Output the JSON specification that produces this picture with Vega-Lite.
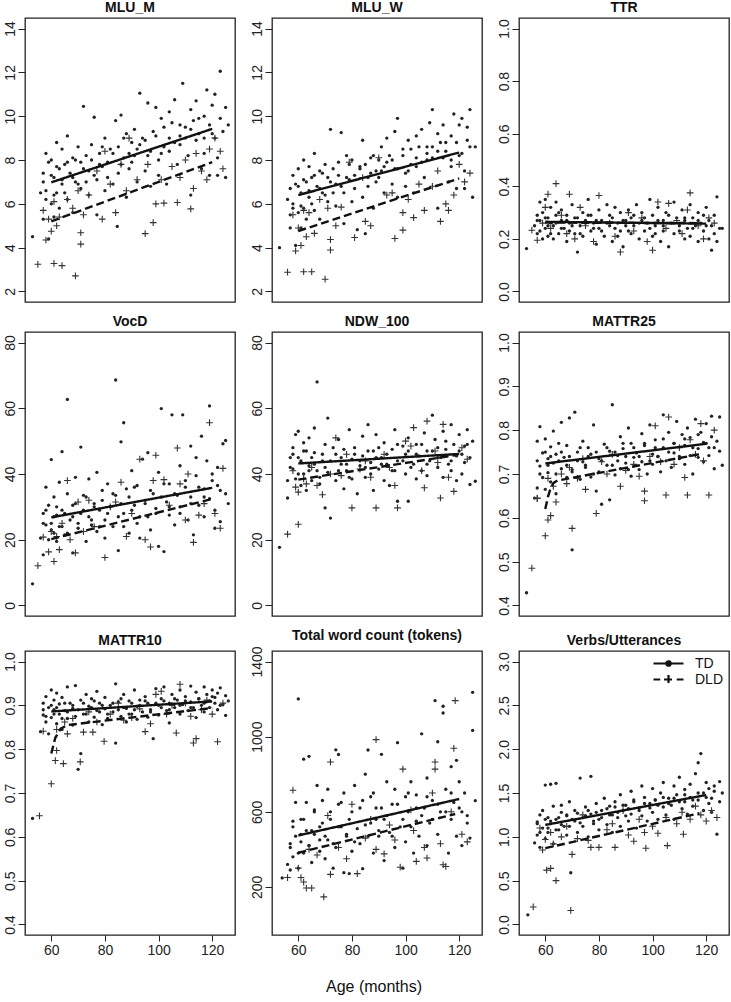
{
  "$schema": "https://vega.github.io/schema/vega-lite/v6.json",
  "padding": {"left": 2, "top": 0, "right": 0, "bottom": 0},
  "background": "white",
  "config": {
    "font": "Liberation Sans",
    "view": {"stroke": "#222", "strokeWidth": 1.3},
    "axis": {"domain": false, "grid": false, "ticks": true, "tickColor": "#222", "tickSize": 7, "tickWidth": 1,
      "labelFont": "Liberation Sans", "labelFontSize": 14, "labelColor": "#222", "labelPadding": 4, "labelOverlap": false, "labelFlush": false},
    "axisY": {"labelAngle": -90, "labelAlign": "center", "labelBaseline": "alphabetic"},
    "axisX": {"labelAngle": 0, "labelFontSize": 14, "labelPadding": 2, "tickSize": 6},
    "title": {"font": "Liberation Sans", "fontSize": 14, "fontWeight": "bold", "color": "#111", "offset": 3, "anchor": "middle"}
  },
  "title": {"text": "Age (months)", "orient": "bottom", "anchor": "middle", "fontSize": 16, "fontWeight": "normal", "offset": 21, "dx": 8},
  "columns": 3,
  "spacing": {"row": 11, "column": 13},
  "resolve": {"scale": {"x": "independent", "y": "independent", "strokeDash": "independent"}, "legend": {"strokeDash": "independent"}},
  "datasets": {
    "mlum_td": [{"a":53,"v":4.5},{"a":56,"v":6.5},{"a":57,"v":7.0},{"a":57,"v":5.3},{"a":58,"v":6.2},{"a":58,"v":8.3},{"a":59,"v":4.4},{"a":59,"v":7.9},{"a":60,"v":6.0},{"a":60,"v":8.0},{"a":61,"v":5.4},{"a":61,"v":7.2},{"a":62,"v":8.8},{"a":62,"v":6.5},{"a":63,"v":7.6},{"a":63,"v":5.8},{"a":64,"v":8.5},{"a":64,"v":6.9},{"a":65,"v":7.8},{"a":66,"v":9.1},{"a":66,"v":6.2},{"a":67,"v":7.4},{"a":68,"v":8.1},{"a":68,"v":5.6},{"a":69,"v":7.0},{"a":70,"v":8.6},{"a":71,"v":6.7},{"a":71,"v":7.9},{"a":72,"v":10.45},{"a":73,"v":8.2},{"a":74,"v":6.4},{"a":74,"v":7.5},{"a":75,"v":8.7},{"a":76,"v":9.95},{"a":77,"v":7.1},{"a":77,"v":5.5},{"a":78,"v":8.3},{"a":79,"v":7.7},{"a":80,"v":9.0},{"a":80,"v":6.6},{"a":81,"v":7.9},{"a":82,"v":8.5},{"a":83,"v":6.9},{"a":84,"v":9.8},{"a":84.6,"v":4.97},{"a":85,"v":7.4},{"a":86,"v":10.05},{"a":87,"v":8.1},{"a":88,"v":6.3},{"a":88,"v":9.2},{"a":89,"v":7.6},{"a":90,"v":8.8},{"a":91,"v":9.4},{"a":92,"v":7.0},{"a":92,"v":8.5},{"a":93,"v":11.05},{"a":94,"v":9.0},{"a":95,"v":7.5},{"a":96,"v":10.6},{"a":96,"v":8.2},{"a":97,"v":6.8},{"a":98,"v":9.3},{"a":99,"v":10.4},{"a":100,"v":8.0},{"a":100,"v":7.3},{"a":101,"v":9.9},{"a":102,"v":8.6},{"a":103,"v":6.9},{"a":104,"v":10.2},{"a":104,"v":8.4},{"a":105,"v":9.7},{"a":106,"v":10.75},{"a":107,"v":7.8},{"a":108,"v":9.1},{"a":108,"v":8.7},{"a":109,"v":11.5},{"a":110,"v":9.5},{"a":111,"v":8.2},{"a":112,"v":10.3},{"a":112,"v":6.4},{"a":113,"v":9.8},{"a":114,"v":8.9},{"a":114,"v":10.7},{"a":115,"v":9.2},{"a":116,"v":7.6},{"a":117,"v":10.0},{"a":117,"v":8.3},{"a":118,"v":11.2},{"a":119,"v":9.6},{"a":119,"v":7.3},{"a":120,"v":10.5},{"a":121,"v":9.0},{"a":121,"v":11.0},{"a":122,"v":8.1},{"a":122,"v":7.3},{"a":123,"v":12.05},{"a":124,"v":9.3},{"a":125,"v":10.4},{"a":125,"v":7.2},{"a":126,"v":9.6},
      {"a":57,"v":7.4},{"a":58,"v":6.6},{"a":60,"v":7.3},{"a":61,"v":6.4},{"a":62,"v":7.7},{"a":64,"v":7.1},{"a":65,"v":6.5},{"a":66,"v":7.9},{"a":68,"v":7.2},{"a":69,"v":8.0},{"a":70,"v":6.9},{"a":72,"v":7.6},{"a":73,"v":7.0},{"a":75,"v":8.0},{"a":76,"v":7.3},{"a":78,"v":7.8},{"a":79,"v":8.6},{"a":81,"v":7.2},{"a":83,"v":8.3},{"a":85,"v":8.6},{"a":86,"v":7.8},{"a":87,"v":9.0},{"a":89,"v":8.3},{"a":90,"v":7.9},{"a":91,"v":8.2},{"a":93,"v":8.7},{"a":95,"v":8.9},{"a":97,"v":8.4},{"a":99,"v":9.1},{"a":101,"v":8.3},{"a":102,"v":9.5},{"a":104,"v":9.0},{"a":106,"v":8.8},{"a":108,"v":9.6},{"a":110,"v":9.0},{"a":112,"v":9.4},{"a":115,"v":9.9},{"a":117,"v":9.0},{"a":120,"v":9.2},{"a":123,"v":9.9}],
    "mlum_dld": [{"a":55,"v":3.24},{"a":57,"v":5.7},{"a":58,"v":4.35},{"a":59,"v":5.3},{"a":60,"v":4.75},{"a":61,"v":3.28},{"a":61,"v":6.1},{"a":62,"v":5.0},{"a":63,"v":5.4},{"a":64,"v":3.18},{"a":66,"v":6.2},{"a":68,"v":5.8},{"a":69,"v":2.71},{"a":70,"v":6.6},{"a":71,"v":4.68},{"a":71,"v":4.16},{"a":72,"v":5.5},{"a":74,"v":6.4},{"a":77,"v":7.5},{"a":79,"v":5.3},{"a":80,"v":8.4},{"a":82,"v":6.9},{"a":84,"v":5.6},{"a":86,"v":7.8},{"a":88,"v":6.6},{"a":89,"v":9.0},{"a":92,"v":7.1},{"a":95,"v":4.64},{"a":96,"v":7.8},{"a":98,"v":5.14},{"a":99,"v":6.0},{"a":101,"v":7.1},{"a":102,"v":6.03},{"a":105,"v":7.7},{"a":107,"v":6.06},{"a":108,"v":7.2},{"a":110,"v":8.0},{"a":112,"v":5.77},{"a":113,"v":6.7},{"a":114,"v":8.3},{"a":116,"v":7.5},{"a":118,"v":7.1},{"a":119,"v":8.5},{"a":121,"v":9.0},{"a":123,"v":8.4},{"a":124,"v":7.6}],
    "mlum_fit": [{"g":"TD","a":60,"v":6.98},{"g":"TD","a":120,"v":9.42},{"g":"DLD","a":60,"v":5.2},{"g":"DLD","a":120,"v":7.9}],
    "mluw_td": [{"a":53,"v":4.0},{"a":56,"v":6.2},{"a":57,"v":5.5},{"a":57,"v":4.9},{"a":58,"v":5.8},{"a":58,"v":7.3},{"a":59,"v":4.1},{"a":59,"v":6.9},{"a":60,"v":5.6},{"a":60,"v":7.6},{"a":61,"v":4.9},{"a":61,"v":6.5},{"a":62,"v":8.0},{"a":62,"v":5.8},{"a":63,"v":7.0},{"a":63,"v":5.3},{"a":64,"v":7.7},{"a":64,"v":6.3},{"a":65,"v":7.2},{"a":66,"v":8.3},{"a":66,"v":5.7},{"a":67,"v":6.8},{"a":68,"v":7.5},{"a":68,"v":5.3},{"a":69,"v":6.5},{"a":70,"v":7.8},{"a":71,"v":6.1},{"a":71,"v":7.2},{"a":72,"v":9.4},{"a":73,"v":7.6},{"a":74,"v":5.9},{"a":74,"v":6.9},{"a":75,"v":7.9},{"a":76,"v":9.25},{"a":77,"v":6.5},{"a":77,"v":5.1},{"a":78,"v":8.2},{"a":79,"v":7.1},{"a":80,"v":8.0},{"a":80,"v":6.1},{"a":81,"v":7.3},{"a":82,"v":4.82},{"a":83,"v":7.7},{"a":84,"v":8.9},{"a":84,"v":6.3},{"a":85,"v":4.64},{"a":86,"v":6.8},{"a":87,"v":7.4},{"a":88,"v":5.8},{"a":88,"v":8.2},{"a":89,"v":7.0},{"a":90,"v":8.0},{"a":91,"v":8.6},{"a":92,"v":6.5},{"a":92,"v":7.7},{"a":93,"v":9.0},{"a":94,"v":8.2},{"a":95,"v":6.9},{"a":96,"v":9.3},{"a":96,"v":7.6},{"a":97,"v":6.3},{"a":97,"v":9.9},{"a":99,"v":8.5},{"a":100,"v":7.4},{"a":100,"v":6.8},{"a":101,"v":8.9},{"a":102,"v":7.8},{"a":103,"v":6.5},{"a":104,"v":9.1},{"a":104,"v":7.7},{"a":105,"v":8.6},{"a":106,"v":9.4},{"a":107,"v":7.2},{"a":108,"v":8.3},{"a":108,"v":8.0},{"a":109,"v":9.7},{"a":110,"v":8.6},{"a":110,"v":10.3},{"a":112,"v":9.2},{"a":112,"v":5.8},{"a":113,"v":8.8},{"a":114,"v":8.1},{"a":114,"v":9.6},{"a":115,"v":8.4},{"a":116,"v":7.0},{"a":117,"v":9.1},{"a":117,"v":7.7},{"a":118,"v":10.1},{"a":119,"v":8.8},{"a":119,"v":6.7},{"a":120,"v":9.6},{"a":121,"v":8.3},{"a":121,"v":9.9},{"a":122,"v":7.5},{"a":122,"v":6.7},{"a":123,"v":9.5},{"a":124,"v":8.6},{"a":124,"v":10.3},{"a":125,"v":6.3},{"a":126,"v":8.6},
      {"a":57,"v":6.7},{"a":58,"v":6.0},{"a":60,"v":6.8},{"a":61,"v":5.9},{"a":62,"v":7.1},{"a":64,"v":6.6},{"a":65,"v":6.0},{"a":66,"v":7.3},{"a":68,"v":6.7},{"a":69,"v":7.4},{"a":70,"v":6.4},{"a":72,"v":7.0},{"a":73,"v":6.5},{"a":75,"v":7.3},{"a":76,"v":6.8},{"a":78,"v":7.2},{"a":79,"v":7.8},{"a":81,"v":6.7},{"a":83,"v":7.6},{"a":85,"v":7.8},{"a":86,"v":7.2},{"a":87,"v":8.1},{"a":89,"v":7.5},{"a":90,"v":7.2},{"a":91,"v":7.5},{"a":93,"v":7.9},{"a":95,"v":8.0},{"a":97,"v":7.6},{"a":99,"v":8.2},{"a":101,"v":7.5},{"a":102,"v":8.5},{"a":104,"v":8.1},{"a":106,"v":7.9},{"a":108,"v":8.6},{"a":110,"v":8.1},{"a":112,"v":8.4},{"a":115,"v":8.8},{"a":117,"v":8.0},{"a":120,"v":8.2},{"a":123,"v":8.9}],
    "mluw_dld": [{"a":56,"v":2.88},{"a":58,"v":5.5},{"a":59,"v":3.85},{"a":60,"v":4.9},{"a":61,"v":4.1},{"a":62,"v":5.7},{"a":62,"v":2.9},{"a":63,"v":4.5},{"a":64,"v":5.6},{"a":65,"v":2.9},{"a":66,"v":4.65},{"a":68,"v":6.2},{"a":70,"v":2.56},{"a":71,"v":5.8},{"a":72,"v":3.89},{"a":72,"v":4.37},{"a":74,"v":5.0},{"a":76,"v":5.85},{"a":79,"v":7.9},{"a":81,"v":4.46},{"a":84,"v":7.2},{"a":85,"v":5.2},{"a":87,"v":5.0},{"a":90,"v":8.1},{"a":93,"v":6.4},{"a":95,"v":6.5},{"a":96,"v":4.42},{"a":99,"v":5.6},{"a":99,"v":4.8},{"a":101,"v":6.2},{"a":103,"v":5.37},{"a":105,"v":6.9},{"a":107,"v":5.7},{"a":110,"v":6.8},{"a":112,"v":7.5},{"a":113,"v":5.2},{"a":115,"v":6.0},{"a":116,"v":5.7},{"a":118,"v":6.4},{"a":120,"v":7.8},{"a":122,"v":7.0},{"a":124,"v":7.4}],
    "mluw_fit": [{"g":"TD","a":60,"v":6.4},{"g":"TD","a":120,"v":8.34},{"g":"DLD","a":60,"v":4.76},{"g":"DLD","a":120,"v":7.16}],
    "ttr_td": [{"a":53,"v":0.163},{"a":56,"v":0.25},{"a":57,"v":0.29},{"a":57,"v":0.22},{"a":58,"v":0.34},{"a":58,"v":0.27},{"a":59,"v":0.2},{"a":59,"v":0.3},{"a":60,"v":0.24},{"a":60,"v":0.35},{"a":61,"v":0.21},{"a":61,"v":0.28},{"a":62,"v":0.26},{"a":62,"v":0.32},{"a":63,"v":0.2},{"a":63,"v":0.25},{"a":64,"v":0.29},{"a":64,"v":0.34},{"a":65,"v":0.22},{"a":66,"v":0.27},{"a":66,"v":0.31},{"a":67,"v":0.24},{"a":68,"v":0.19},{"a":68,"v":0.29},{"a":69,"v":0.26},{"a":70,"v":0.33},{"a":71,"v":0.22},{"a":71,"v":0.28},{"a":72,"v":0.15},{"a":73,"v":0.25},{"a":74,"v":0.3},{"a":74,"v":0.21},{"a":75,"v":0.27},{"a":76,"v":0.35},{"a":77,"v":0.23},{"a":77,"v":0.29},{"a":78,"v":0.26},{"a":79,"v":0.18},{"a":80,"v":0.31},{"a":80,"v":0.24},{"a":81,"v":0.27},{"a":82,"v":0.21},{"a":83,"v":0.33},{"a":84,"v":0.25},{"a":84,"v":0.29},{"a":85,"v":0.19},{"a":86,"v":0.32},{"a":87,"v":0.26},{"a":88,"v":0.23},{"a":88,"v":0.3},{"a":89,"v":0.17},{"a":90,"v":0.27},{"a":91,"v":0.31},{"a":92,"v":0.22},{"a":92,"v":0.28},{"a":93,"v":0.25},{"a":94,"v":0.33},{"a":95,"v":0.2},{"a":96,"v":0.27},{"a":96,"v":0.3},{"a":97,"v":0.23},{"a":98,"v":0.26},{"a":99,"v":0.35},{"a":100,"v":0.21},{"a":100,"v":0.29},{"a":101,"v":0.25},{"a":102,"v":0.32},{"a":103,"v":0.19},{"a":104,"v":0.27},{"a":104,"v":0.23},{"a":105,"v":0.3},{"a":106,"v":0.17},{"a":107,"v":0.26},{"a":108,"v":0.34},{"a":108,"v":0.22},{"a":109,"v":0.28},{"a":110,"v":0.25},{"a":111,"v":0.31},{"a":112,"v":0.2},{"a":112,"v":0.27},{"a":113,"v":0.24},{"a":114,"v":0.33},{"a":114,"v":0.21},{"a":115,"v":0.28},{"a":116,"v":0.25},{"a":117,"v":0.19},{"a":117,"v":0.3},{"a":118,"v":0.26},{"a":119,"v":0.23},{"a":119,"v":0.29},{"a":120,"v":0.32},{"a":121,"v":0.27},{"a":121,"v":0.2},{"a":122,"v":0.25},{"a":122,"v":0.157},{"a":123,"v":0.29},{"a":124,"v":0.19},{"a":124,"v":0.36},{"a":125,"v":0.24},{"a":126,"v":0.24},
      {"a":57,"v":0.27},{"a":58,"v":0.23},{"a":60,"v":0.28},{"a":61,"v":0.25},{"a":62,"v":0.22},{"a":64,"v":0.26},{"a":65,"v":0.3},{"a":66,"v":0.24},{"a":68,"v":0.27},{"a":69,"v":0.23},{"a":70,"v":0.25},{"a":72,"v":0.28},{"a":73,"v":0.22},{"a":75,"v":0.26},{"a":76,"v":0.29},{"a":78,"v":0.24},{"a":79,"v":0.27},{"a":81,"v":0.23},{"a":83,"v":0.26},{"a":85,"v":0.28},{"a":86,"v":0.24},{"a":87,"v":0.21},{"a":89,"v":0.27},{"a":90,"v":0.25},{"a":91,"v":0.23},{"a":93,"v":0.29},{"a":95,"v":0.26},{"a":97,"v":0.28},{"a":99,"v":0.24},{"a":101,"v":0.22},{"a":102,"v":0.27},{"a":104,"v":0.25},{"a":106,"v":0.29},{"a":108,"v":0.26},{"a":110,"v":0.23},{"a":112,"v":0.28},{"a":115,"v":0.24},{"a":117,"v":0.27},{"a":120,"v":0.25},{"a":123,"v":0.22}],
    "ttr_dld": [{"a":55,"v":0.233},{"a":57,"v":0.195},{"a":59,"v":0.26},{"a":60,"v":0.32},{"a":61,"v":0.37},{"a":62,"v":0.24},{"a":64,"v":0.41},{"a":66,"v":0.29},{"a":68,"v":0.22},{"a":69,"v":0.37},{"a":71,"v":0.2},{"a":73,"v":0.32},{"a":75,"v":0.25},{"a":78,"v":0.19},{"a":80,"v":0.365},{"a":84,"v":0.26},{"a":86,"v":0.21},{"a":88,"v":0.15},{"a":91,"v":0.3},{"a":93,"v":0.23},{"a":96,"v":0.28},{"a":98,"v":0.19},{"a":100,"v":0.157},{"a":102,"v":0.34},{"a":105,"v":0.24},{"a":106,"v":0.335},{"a":109,"v":0.27},{"a":111,"v":0.22},{"a":113,"v":0.31},{"a":114,"v":0.375},{"a":117,"v":0.25},{"a":119,"v":0.2},{"a":121,"v":0.28},{"a":123,"v":0.26}],
    "ttr_fit": [{"g":"TD","a":60,"v":0.265},{"g":"TD","a":120,"v":0.258},{"g":"DLD","a":60,"v":0.262},{"g":"DLD","a":118,"v":0.26}],
    "vocd_td": [{"a":53,"v":6.6},{"a":56,"v":20.5},{"a":57,"v":28.0},{"a":57,"v":15.4},{"a":58,"v":24.5},{"a":58,"v":36.0},{"a":59,"v":20.0},{"a":59,"v":30.5},{"a":60,"v":44.4},{"a":60,"v":25.0},{"a":61,"v":22.0},{"a":61,"v":33.0},{"a":62,"v":27.5},{"a":62,"v":19.5},{"a":63,"v":37.5},{"a":63,"v":24.0},{"a":64,"v":29.0},{"a":64,"v":46.8},{"a":65,"v":21.5},{"a":66,"v":34.0},{"a":66,"v":62.7},{"a":67,"v":26.0},{"a":68,"v":16.0},{"a":68,"v":30.5},{"a":69,"v":39.0},{"a":70,"v":23.5},{"a":71,"v":48.2},{"a":71,"v":28.0},{"a":72,"v":33.5},{"a":73,"v":19.5},{"a":74,"v":27.0},{"a":74,"v":38.5},{"a":75,"v":24.5},{"a":76,"v":31.0},{"a":77,"v":40.5},{"a":77,"v":22.5},{"a":78,"v":29.0},{"a":79,"v":35.0},{"a":80,"v":26.0},{"a":80,"v":20.5},{"a":81,"v":37.0},{"a":82,"v":30.0},{"a":83,"v":24.0},{"a":84,"v":68.6},{"a":84,"v":33.5},{"a":85,"v":16.7},{"a":86,"v":49.8},{"a":87,"v":55.6},{"a":87,"v":28.0},{"a":88,"v":35.5},{"a":89,"v":22.0},{"a":90,"v":41.0},{"a":91,"v":30.5},{"a":92,"v":25.0},{"a":92,"v":36.5},{"a":93,"v":20.5},{"a":94,"v":44.5},{"a":95,"v":32.0},{"a":96,"v":27.0},{"a":96,"v":46.5},{"a":97,"v":23.0},{"a":98,"v":34.0},{"a":99,"v":29.5},{"a":100,"v":40.5},{"a":100,"v":18.0},{"a":101,"v":59.9},{"a":102,"v":16.4},{"a":103,"v":31.5},{"a":104,"v":27.5},{"a":104,"v":37.0},{"a":105,"v":58.0},{"a":106,"v":24.5},{"a":107,"v":33.5},{"a":108,"v":30.0},{"a":108,"v":42.5},{"a":109,"v":58.0},{"a":110,"v":36.0},{"a":111,"v":26.0},{"a":112,"v":48.5},{"a":112,"v":33.0},{"a":113,"v":21.5},{"a":114,"v":39.5},{"a":114,"v":45.0},{"a":115,"v":30.5},{"a":116,"v":51.5},{"a":117,"v":35.5},{"a":117,"v":27.0},{"a":118,"v":44.0},{"a":119,"v":60.7},{"a":119,"v":32.5},{"a":120,"v":38.0},{"a":121,"v":29.0},{"a":121,"v":23.5},{"a":122,"v":36.5},{"a":122,"v":42.0},{"a":123,"v":25.5},{"a":124,"v":49.2},{"a":125,"v":50.2},{"a":125,"v":34.0},{"a":126,"v":31.0},
      {"a":57,"v":25},{"a":58,"v":29},{"a":60,"v":23},{"a":61,"v":27},{"a":62,"v":30},{"a":64,"v":24},{"a":65,"v":28},{"a":66,"v":22},{"a":68,"v":27},{"a":69,"v":31},{"a":70,"v":25},{"a":72,"v":29},{"a":73,"v":33},{"a":75,"v":26},{"a":76,"v":30},{"a":78,"v":24},{"a":79,"v":32},{"a":81,"v":28},{"a":83,"v":34},{"a":85,"v":27},{"a":86,"v":31},{"a":87,"v":24},{"a":89,"v":33},{"a":90,"v":29},{"a":91,"v":36},{"a":93,"v":27},{"a":95,"v":31},{"a":97,"v":35},{"a":99,"v":28},{"a":101,"v":33},{"a":102,"v":37},{"a":104,"v":30},{"a":106,"v":34},{"a":108,"v":28},{"a":110,"v":38},{"a":112,"v":31},{"a":115,"v":36},{"a":117,"v":33},{"a":120,"v":40},{"a":123,"v":35}],
    "vocd_dld": [{"a":55,"v":12.1},{"a":57,"v":20.8},{"a":59,"v":16.3},{"a":60,"v":22.5},{"a":61,"v":13.4},{"a":62,"v":21.0},{"a":63,"v":17.0},{"a":64,"v":25.0},{"a":66,"v":38.0},{"a":67,"v":20.0},{"a":69,"v":16.0},{"a":70,"v":31.5},{"a":72,"v":22.5},{"a":74,"v":32.0},{"a":76,"v":24.0},{"a":80,"v":14.6},{"a":82,"v":30.0},{"a":84,"v":31.5},{"a":86,"v":37.5},{"a":88,"v":21.0},{"a":90,"v":28.0},{"a":93,"v":44.5},{"a":95,"v":20.0},{"a":97,"v":17.8},{"a":98,"v":38.0},{"a":99,"v":45.7},{"a":102,"v":38.3},{"a":104,"v":30.5},{"a":107,"v":47.9},{"a":108,"v":37.0},{"a":110,"v":26.0},{"a":111,"v":40.0},{"a":113,"v":19.2},{"a":115,"v":27.5},{"a":117,"v":31.0},{"a":119,"v":55.6},{"a":121,"v":28.0},{"a":123,"v":23.5},{"a":124,"v":41.7}],
    "vocd_fit": [{"g":"TD","a":60,"v":26.8},{"g":"TD","a":120,"v":35.8},{"g":"DLD","a":60,"v":20.2},{"g":"DLD","a":120,"v":32.4}],
    "ndw_td": [{"a":53,"v":17.7},{"a":56,"v":38.0},{"a":56,"v":32.7},{"a":57,"v":45.0},{"a":58,"v":48.0},{"a":58,"v":41.5},{"a":59,"v":52.0},{"a":59,"v":38.5},{"a":60,"v":45.0},{"a":60,"v":53.0},{"a":61,"v":36.5},{"a":61,"v":43.5},{"a":62,"v":49.5},{"a":62,"v":40.0},{"a":63,"v":47.0},{"a":63,"v":35.0},{"a":64,"v":51.0},{"a":64,"v":42.5},{"a":65,"v":38.0},{"a":66,"v":46.5},{"a":66,"v":54.0},{"a":67,"v":41.0},{"a":67,"v":68.0},{"a":68,"v":37.0},{"a":69,"v":44.0},{"a":70,"v":49.0},{"a":70,"v":29.7},{"a":71,"v":40.5},{"a":71,"v":57.0},{"a":72,"v":26.6},{"a":74,"v":46.0},{"a":74,"v":38.0},{"a":75,"v":50.5},{"a":76,"v":43.0},{"a":77,"v":35.5},{"a":77,"v":47.5},{"a":78,"v":41.0},{"a":79,"v":53.5},{"a":80,"v":44.5},{"a":80,"v":38.5},{"a":81,"v":48.0},{"a":82,"v":34.0},{"a":83,"v":42.5},{"a":84,"v":51.5},{"a":84,"v":45.5},{"a":85,"v":39.0},{"a":86,"v":55.0},{"a":87,"v":43.5},{"a":88,"v":35.0},{"a":88,"v":47.0},{"a":89,"v":52.0},{"a":90,"v":41.5},{"a":91,"v":45.0},{"a":92,"v":38.0},{"a":92,"v":49.5},{"a":93,"v":43.0},{"a":94,"v":36.5},{"a":95,"v":47.5},{"a":96,"v":41.0},{"a":96,"v":53.5},{"a":97,"v":44.0},{"a":97,"v":31.7},{"a":99,"v":48.5},{"a":100,"v":40.0},{"a":100,"v":46.0},{"a":101,"v":51.0},{"a":101,"v":31.7},{"a":103,"v":43.0},{"a":104,"v":38.5},{"a":104,"v":49.0},{"a":105,"v":45.5},{"a":106,"v":41.0},{"a":107,"v":52.5},{"a":108,"v":47.0},{"a":108,"v":39.5},{"a":109,"v":44.0},{"a":110,"v":57.9},{"a":111,"v":50.5},{"a":112,"v":42.0},{"a":112,"v":48.0},{"a":113,"v":45.0},{"a":114,"v":53.0},{"a":114,"v":39.0},{"a":115,"v":47.5},{"a":116,"v":43.0},{"a":117,"v":55.0},{"a":117,"v":41.0},{"a":118,"v":49.0},{"a":119,"v":45.5},{"a":119,"v":38.0},{"a":120,"v":52.0},{"a":121,"v":46.0},{"a":121,"v":40.0},{"a":122,"v":48.5},{"a":122,"v":43.5},{"a":123,"v":53.5},{"a":124,"v":45.0},{"a":124,"v":36.8},{"a":125,"v":50.0},{"a":126,"v":37.8},
      {"a":57,"v":42},{"a":58,"v":46},{"a":60,"v":40},{"a":61,"v":44},{"a":62,"v":47},{"a":64,"v":41},{"a":65,"v":45},{"a":66,"v":43},{"a":68,"v":39},{"a":69,"v":46},{"a":70,"v":42},{"a":72,"v":44},{"a":73,"v":48},{"a":75,"v":41},{"a":76,"v":45},{"a":78,"v":43},{"a":79,"v":39},{"a":81,"v":46},{"a":83,"v":44},{"a":85,"v":42},{"a":86,"v":47},{"a":87,"v":40},{"a":89,"v":45},{"a":90,"v":48},{"a":91,"v":43},{"a":93,"v":46},{"a":95,"v":41},{"a":97,"v":49},{"a":99,"v":44},{"a":101,"v":47},{"a":102,"v":42},{"a":104,"v":46},{"a":106,"v":49},{"a":108,"v":43},{"a":110,"v":47},{"a":112,"v":45},{"a":115,"v":50},{"a":117,"v":44},{"a":120,"v":47},{"a":123,"v":49}],
    "ndw_dld": [{"a":56,"v":21.7},{"a":58,"v":41.0},{"a":59,"v":36.0},{"a":60,"v":34.5},{"a":60,"v":24.7},{"a":62,"v":38.5},{"a":63,"v":37.0},{"a":65,"v":42.0},{"a":67,"v":36.5},{"a":69,"v":33.7},{"a":72,"v":40.0},{"a":74,"v":51.0},{"a":76,"v":39.5},{"a":78,"v":46.0},{"a":80,"v":29.7},{"a":83,"v":41.5},{"a":85,"v":44.0},{"a":87,"v":39.0},{"a":89,"v":29.7},{"a":92,"v":46.0},{"a":94,"v":42.0},{"a":96,"v":36.5},{"a":97,"v":29.7},{"a":100,"v":50.0},{"a":102,"v":48.5},{"a":103,"v":54.1},{"a":106,"v":41.0},{"a":107,"v":35.8},{"a":108,"v":56.1},{"a":111,"v":47.0},{"a":112,"v":43.5},{"a":113,"v":32.7},{"a":114,"v":55.1},{"a":116,"v":39.0},{"a":118,"v":34.7},{"a":121,"v":48.0},{"a":123,"v":44.5}],
    "ndw_fit": [{"g":"TD","a":60,"v":43.2},{"g":"TD","a":120,"v":46.1},{"g":"DLD","a":60,"v":38.3},{"g":"DLD","a":118.5,"v":45.7}],
    "m25_td": [{"a":53,"v":0.429},{"a":56,"v":0.645},{"a":57,"v":0.668},{"a":57,"v":0.775},{"a":58,"v":0.718},{"a":58,"v":0.808},{"a":59,"v":0.692},{"a":59,"v":0.748},{"a":60,"v":0.665},{"a":60,"v":0.78},{"a":61,"v":0.703},{"a":61,"v":0.735},{"a":62,"v":0.762},{"a":62,"v":0.682},{"a":63,"v":0.725},{"a":63,"v":0.798},{"a":64,"v":0.655},{"a":64,"v":0.745},{"a":65,"v":0.77},{"a":66,"v":0.712},{"a":66,"v":0.818},{"a":67,"v":0.738},{"a":68,"v":0.692},{"a":68,"v":0.765},{"a":69,"v":0.828},{"a":70,"v":0.705},{"a":70,"v":0.527},{"a":71,"v":0.841},{"a":72,"v":0.75},{"a":73,"v":0.688},{"a":74,"v":0.728},{"a":74,"v":0.775},{"a":75,"v":0.715},{"a":76,"v":0.76},{"a":77,"v":0.693},{"a":77,"v":0.745},{"a":78,"v":0.812},{"a":79,"v":0.661},{"a":80,"v":0.735},{"a":80,"v":0.705},{"a":81,"v":0.631},{"a":82,"v":0.768},{"a":83,"v":0.72},{"a":84,"v":0.641},{"a":84,"v":0.752},{"a":85,"v":0.858},{"a":86,"v":0.698},{"a":87,"v":0.742},{"a":88,"v":0.785},{"a":88,"v":0.712},{"a":89,"v":0.758},{"a":90,"v":0.725},{"a":91,"v":0.805},{"a":92,"v":0.695},{"a":92,"v":0.77},{"a":93,"v":0.738},{"a":94,"v":0.748},{"a":95,"v":0.71},{"a":96,"v":0.792},{"a":96,"v":0.728},{"a":97,"v":0.765},{"a":98,"v":0.7},{"a":99,"v":0.812},{"a":100,"v":0.745},{"a":100,"v":0.722},{"a":101,"v":0.778},{"a":102,"v":0.74},{"a":103,"v":0.705},{"a":104,"v":0.835},{"a":104,"v":0.76},{"a":105,"v":0.73},{"a":106,"v":0.795},{"a":107,"v":0.715},{"a":108,"v":0.77},{"a":108,"v":0.748},{"a":109,"v":0.82},{"a":110,"v":0.735},{"a":111,"v":0.79},{"a":112,"v":0.722},{"a":112,"v":0.765},{"a":113,"v":0.805},{"a":114,"v":0.742},{"a":114,"v":0.783},{"a":115,"v":0.7},{"a":116,"v":0.825},{"a":117,"v":0.758},{"a":117,"v":0.738},{"a":118,"v":0.795},{"a":119,"v":0.772},{"a":119,"v":0.728},{"a":120,"v":0.815},{"a":121,"v":0.76},{"a":121,"v":0.742},{"a":122,"v":0.832},{"a":122,"v":0.785},{"a":123,"v":0.712},{"a":124,"v":0.775},{"a":125,"v":0.83},{"a":125,"v":0.752},{"a":126,"v":0.72},
      {"a":57,"v":0.73},{"a":58,"v":0.70},{"a":60,"v":0.75},{"a":61,"v":0.72},{"a":62,"v":0.74},{"a":64,"v":0.70},{"a":65,"v":0.73},{"a":66,"v":0.75},{"a":68,"v":0.72},{"a":69,"v":0.74},{"a":70,"v":0.71},{"a":72,"v":0.73},{"a":73,"v":0.76},{"a":75,"v":0.72},{"a":76,"v":0.74},{"a":78,"v":0.70},{"a":79,"v":0.75},{"a":81,"v":0.73},{"a":83,"v":0.76},{"a":85,"v":0.72},{"a":86,"v":0.75},{"a":87,"v":0.73},{"a":89,"v":0.77},{"a":90,"v":0.74},{"a":91,"v":0.71},{"a":93,"v":0.76},{"a":95,"v":0.74},{"a":97,"v":0.77},{"a":99,"v":0.73},{"a":101,"v":0.76},{"a":102,"v":0.74},{"a":104,"v":0.78},{"a":106,"v":0.75},{"a":108,"v":0.77},{"a":110,"v":0.74},{"a":112,"v":0.78},{"a":115,"v":0.76},{"a":117,"v":0.79},{"a":120,"v":0.77},{"a":123,"v":0.76}],
    "m25_dld": [{"a":55,"v":0.485},{"a":57,"v":0.645},{"a":57,"v":0.644},{"a":60,"v":0.559},{"a":61,"v":0.69},{"a":61,"v":0.595},{"a":62,"v":0.605},{"a":63,"v":0.672},{"a":64,"v":0.636},{"a":66,"v":0.7},{"a":68,"v":0.678},{"a":69,"v":0.715},{"a":70,"v":0.576},{"a":72,"v":0.69},{"a":74,"v":0.735},{"a":75,"v":0.665},{"a":79,"v":0.61},{"a":81,"v":0.728},{"a":83,"v":0.7},{"a":85,"v":0.745},{"a":88,"v":0.672},{"a":90,"v":0.708},{"a":93,"v":0.722},{"a":95,"v":0.695},{"a":97,"v":0.661},{"a":97,"v":0.639},{"a":99,"v":0.74},{"a":101,"v":0.81},{"a":103,"v":0.728},{"a":105,"v":0.652},{"a":106,"v":0.83},{"a":108,"v":0.722},{"a":110,"v":0.76},{"a":112,"v":0.692},{"a":113,"v":0.652},{"a":114,"v":0.778},{"a":116,"v":0.745},{"a":118,"v":0.815},{"a":119,"v":0.73},{"a":121,"v":0.652},{"a":123,"v":0.8}],
    "m25_fit": [{"g":"TD","a":60,"v":0.724},{"g":"TD","a":120,"v":0.769},{"g":"DLD","a":60,"v":0.62},{"g":"DLD","a":61,"v":0.648},{"g":"DLD","a":62,"v":0.668},{"g":"DLD","a":63,"v":0.679},{"g":"DLD","a":64.5,"v":0.685},{"g":"DLD","a":117.5,"v":0.745}],
    "m10_td": [{"a":53,"v":0.642},{"a":56,"v":0.84},{"a":57,"v":0.878},{"a":57,"v":0.905},{"a":58,"v":0.92},{"a":58,"v":0.862},{"a":59,"v":0.895},{"a":59,"v":0.835},{"a":60,"v":0.935},{"a":60,"v":0.872},{"a":61,"v":0.89},{"a":61,"v":0.912},{"a":62,"v":0.858},{"a":62,"v":0.928},{"a":63,"v":0.88},{"a":63,"v":0.903},{"a":64,"v":0.845},{"a":64,"v":0.918},{"a":65,"v":0.888},{"a":66,"v":0.942},{"a":66,"v":0.87},{"a":67,"v":0.905},{"a":68,"v":0.855},{"a":68,"v":0.893},{"a":69,"v":0.945},{"a":70,"v":0.754},{"a":71,"v":0.79},{"a":71,"v":0.912},{"a":72,"v":0.88},{"a":73,"v":0.925},{"a":74,"v":0.862},{"a":74,"v":0.898},{"a":75,"v":0.915},{"a":76,"v":0.873},{"a":77,"v":0.932},{"a":77,"v":0.888},{"a":78,"v":0.905},{"a":79,"v":0.856},{"a":80,"v":0.892},{"a":80,"v":0.918},{"a":81,"v":0.87},{"a":82,"v":0.9},{"a":83,"v":0.885},{"a":84,"v":0.949},{"a":84,"v":0.814},{"a":85,"v":0.908},{"a":86,"v":0.875},{"a":87,"v":0.925},{"a":88,"v":0.893},{"a":88,"v":0.862},{"a":89,"v":0.91},{"a":90,"v":0.88},{"a":91,"v":0.935},{"a":92,"v":0.898},{"a":92,"v":0.868},{"a":93,"v":0.912},{"a":94,"v":0.885},{"a":95,"v":0.92},{"a":96,"v":0.873},{"a":96,"v":0.905},{"a":97,"v":0.89},{"a":98,"v":0.824},{"a":99,"v":0.938},{"a":100,"v":0.9},{"a":100,"v":0.878},{"a":101,"v":0.915},{"a":102,"v":0.942},{"a":103,"v":0.888},{"a":104,"v":0.905},{"a":104,"v":0.86},{"a":105,"v":0.925},{"a":106,"v":0.895},{"a":107,"v":0.912},{"a":108,"v":0.88},{"a":108,"v":0.935},{"a":109,"v":0.902},{"a":110,"v":0.92},{"a":111,"v":0.888},{"a":112,"v":0.944},{"a":112,"v":0.908},{"a":113,"v":0.895},{"a":114,"v":0.93},{"a":114,"v":0.872},{"a":115,"v":0.915},{"a":116,"v":0.9},{"a":117,"v":0.942},{"a":117,"v":0.885},{"a":118,"v":0.925},{"a":119,"v":0.91},{"a":119,"v":0.895},{"a":120,"v":0.935},{"a":121,"v":0.905},{"a":121,"v":0.918},{"a":122,"v":0.89},{"a":122,"v":0.928},{"a":123,"v":0.94},{"a":124,"v":0.902},{"a":125,"v":0.877},{"a":125,"v":0.922},{"a":126,"v":0.91},
      {"a":57,"v":0.89},{"a":58,"v":0.875},{"a":60,"v":0.9},{"a":61,"v":0.88},{"a":62,"v":0.895},{"a":64,"v":0.87},{"a":65,"v":0.905},{"a":66,"v":0.885},{"a":68,"v":0.9},{"a":69,"v":0.875},{"a":70,"v":0.89},{"a":72,"v":0.905},{"a":73,"v":0.88},{"a":75,"v":0.895},{"a":76,"v":0.91},{"a":78,"v":0.885},{"a":79,"v":0.9},{"a":81,"v":0.88},{"a":83,"v":0.905},{"a":85,"v":0.89},{"a":86,"v":0.915},{"a":87,"v":0.895},{"a":89,"v":0.88},{"a":90,"v":0.905},{"a":91,"v":0.89},{"a":93,"v":0.9},{"a":95,"v":0.91},{"a":97,"v":0.885},{"a":99,"v":0.905},{"a":101,"v":0.895},{"a":102,"v":0.91},{"a":104,"v":0.89},{"a":106,"v":0.915},{"a":108,"v":0.9},{"a":110,"v":0.91},{"a":112,"v":0.895},{"a":115,"v":0.915},{"a":117,"v":0.905},{"a":120,"v":0.92},{"a":123,"v":0.9}],
    "m10_dld": [{"a":55.6,"v":0.648},{"a":57,"v":0.841},{"a":60,"v":0.721},{"a":61.5,"v":0.774},{"a":62,"v":0.797},{"a":62,"v":0.845},{"a":64.5,"v":0.767},{"a":65,"v":0.862},{"a":66,"v":0.835},{"a":68,"v":0.87},{"a":70.8,"v":0.771},{"a":72,"v":0.839},{"a":74,"v":0.885},{"a":75.5,"v":0.839},{"a":77,"v":0.862},{"a":79.7,"v":0.818},{"a":82,"v":0.88},{"a":85,"v":0.905},{"a":87,"v":0.866},{"a":90,"v":0.872},{"a":93,"v":0.892},{"a":95,"v":0.84},{"a":97,"v":0.858},{"a":99,"v":0.925},{"a":101,"v":0.932},{"a":103,"v":0.88},{"a":105,"v":0.9},{"a":106.6,"v":0.837},{"a":108,"v":0.948},{"a":110,"v":0.905},{"a":112,"v":0.875},{"a":113,"v":0.814},{"a":114,"v":0.824},{"a":116,"v":0.89},{"a":118,"v":0.912},{"a":120,"v":0.88},{"a":122,"v":0.817},{"a":124,"v":0.905}],
    "m10_fit": [{"g":"TD","a":60,"v":0.886},{"g":"TD","a":120,"v":0.909},{"g":"DLD","a":60,"v":0.79},{"g":"DLD","a":61.5,"v":0.826},{"g":"DLD","a":63.5,"v":0.847},{"g":"DLD","a":66,"v":0.855},{"g":"DLD","a":120,"v":0.894}],
    "tok_td": [{"a":54,"v":248},{"a":56,"v":320},{"a":57,"v":290},{"a":57,"v":410},{"a":58,"v":550},{"a":58,"v":360},{"a":59,"v":470},{"a":59,"v":650},{"a":60,"v":300},{"a":60,"v":1201},{"a":61,"v":440},{"a":61,"v":560},{"a":62,"v":380},{"a":62,"v":880},{"a":63,"v":500},{"a":63,"v":650},{"a":64,"v":895},{"a":64,"v":420},{"a":65,"v":330},{"a":66,"v":600},{"a":66,"v":480},{"a":67,"v":740},{"a":68,"v":390},{"a":68,"v":520},{"a":69,"v":660},{"a":70,"v":350},{"a":71,"v":450},{"a":71,"v":720},{"a":72,"v":560},{"a":73,"v":300},{"a":74,"v":930},{"a":74,"v":410},{"a":75,"v":640},{"a":75,"v":905},{"a":76,"v":520},{"a":77,"v":276},{"a":77,"v":700},{"a":78,"v":470},{"a":79,"v":271},{"a":80,"v":600},{"a":80,"v":390},{"a":81,"v":740},{"a":82,"v":510},{"a":83,"v":430},{"a":84,"v":660},{"a":84,"v":297},{"a":85,"v":800},{"a":86,"v":929},{"a":87,"v":540},{"a":88,"v":380},{"a":88,"v":700},{"a":89,"v":620},{"a":90,"v":470},{"a":91,"v":906},{"a":92,"v":560},{"a":92,"v":340},{"a":93,"v":760},{"a":94,"v":490},{"a":95,"v":640},{"a":96,"v":410},{"a":96,"v":720},{"a":97,"v":968},{"a":98,"v":520},{"a":99,"v":300},{"a":100,"v":680},{"a":100,"v":440},{"a":101,"v":600},{"a":102,"v":760},{"a":103,"v":380},{"a":104,"v":550},{"a":104,"v":690},{"a":105,"v":470},{"a":106,"v":1015},{"a":107,"v":620},{"a":108,"v":420},{"a":108,"v":780},{"a":109,"v":540},{"a":110,"v":660},{"a":111,"v":1192},{"a":112,"v":973},{"a":112,"v":480},{"a":113,"v":600},{"a":114,"v":1162},{"a":114,"v":1126},{"a":115,"v":720},{"a":116,"v":380},{"a":117,"v":840},{"a":117,"v":560},{"a":118,"v":650},{"a":119,"v":874},{"a":119,"v":470},{"a":120,"v":760},{"a":121,"v":600},{"a":121,"v":420},{"a":122,"v":700},{"a":123,"v":540},{"a":124,"v":460},{"a":125,"v":1236},{"a":125,"v":1033},{"a":126,"v":659},
      {"a":57,"v":430},{"a":58,"v":520},{"a":60,"v":380},{"a":61,"v":480},{"a":62,"v":560},{"a":64,"v":420},{"a":65,"v":500},{"a":66,"v":610},{"a":68,"v":450},{"a":69,"v":540},{"a":70,"v":470},{"a":72,"v":600},{"a":73,"v":430},{"a":75,"v":520},{"a":76,"v":650},{"a":78,"v":480},{"a":79,"v":560},{"a":81,"v":440},{"a":83,"v":620},{"a":85,"v":530},{"a":86,"v":470},{"a":87,"v":680},{"a":89,"v":560},{"a":90,"v":500},{"a":91,"v":620},{"a":93,"v":580},{"a":95,"v":470},{"a":97,"v":640},{"a":99,"v":560},{"a":101,"v":700},{"a":102,"v":520},{"a":104,"v":620},{"a":106,"v":580},{"a":108,"v":680},{"a":110,"v":560},{"a":112,"v":640},{"a":115,"v":600},{"a":117,"v":700},{"a":120,"v":620},{"a":123,"v":580}],
    "tok_dld": [{"a":56,"v":250},{"a":58,"v":715},{"a":60,"v":300},{"a":61,"v":250},{"a":62,"v":226},{"a":63,"v":194},{"a":64,"v":400},{"a":65,"v":194},{"a":67,"v":370},{"a":69.5,"v":147},{"a":71,"v":580},{"a":72,"v":865},{"a":72,"v":267},{"a":75,"v":410},{"a":78,"v":350},{"a":80,"v":640},{"a":82,"v":271},{"a":85,"v":460},{"a":87,"v":560},{"a":89,"v":400},{"a":89,"v":984},{"a":92,"v":376},{"a":94,"v":530},{"a":96,"v":450},{"a":98,"v":305},{"a":99,"v":827},{"a":102,"v":610},{"a":103,"v":500},{"a":104,"v":336},{"a":107,"v":410},{"a":108,"v":354},{"a":110,"v":700},{"a":111,"v":865},{"a":111,"v":827},{"a":113,"v":430},{"a":114,"v":318},{"a":115,"v":309},{"a":117,"v":600},{"a":118,"v":938},{"a":118.5,"v":1192},{"a":121,"v":480},{"a":123,"v":440}],
    "tok_fit": [{"g":"TD","a":60,"v":474},{"g":"TD","a":120,"v":668},{"g":"DLD","a":60,"v":382},{"g":"DLD","a":118.5,"v":588}],
    "verb_td": [{"a":53.5,"v":0.11},{"a":56,"v":0.93},{"a":57,"v":1.17},{"a":57,"v":1.02},{"a":58,"v":1.25},{"a":58,"v":0.88},{"a":59,"v":1.1},{"a":59,"v":1.3},{"a":60,"v":1.59},{"a":60,"v":0.98},{"a":61,"v":1.22},{"a":61,"v":1.05},{"a":62,"v":1.6},{"a":62,"v":1.15},{"a":63,"v":1.35},{"a":63,"v":0.92},{"a":64,"v":1.61},{"a":64,"v":1.2},{"a":65,"v":1.08},{"a":66,"v":1.28},{"a":66,"v":1.36},{"a":67,"v":1.12},{"a":68,"v":1.02},{"a":68,"v":1.24},{"a":69,"v":1.4},{"a":69.5,"v":0.59},{"a":71,"v":1.18},{"a":71,"v":1.3},{"a":72,"v":1.05},{"a":73,"v":1.67},{"a":74,"v":1.22},{"a":74,"v":1.12},{"a":75,"v":1.34},{"a":76,"v":1.0},{"a":77,"v":1.69},{"a":77,"v":1.26},{"a":78,"v":1.15},{"a":79,"v":1.38},{"a":80,"v":1.2},{"a":80,"v":1.08},{"a":81,"v":1.3},{"a":82,"v":1.44},{"a":83,"v":1.14},{"a":84,"v":1.25},{"a":84,"v":1.35},{"a":85,"v":1.05},{"a":86,"v":1.4},{"a":87,"v":1.22},{"a":88,"v":1.48},{"a":88,"v":1.12},{"a":89,"v":1.3},{"a":90,"v":1.36},{"a":91,"v":1.18},{"a":92,"v":1.52},{"a":92,"v":1.26},{"a":93,"v":1.42},{"a":94,"v":1.1},{"a":95,"v":1.33},{"a":96,"v":1.58},{"a":96,"v":1.24},{"a":97,"v":1.45},{"a":98,"v":1.18},{"a":99,"v":1.38},{"a":100,"v":1.55},{"a":100,"v":1.28},{"a":101,"v":1.42},{"a":102,"v":1.2},{"a":103,"v":1.5},{"a":104,"v":1.34},{"a":104,"v":1.62},{"a":105,"v":1.25},{"a":106,"v":1.44},{"a":107,"v":1.36},{"a":108,"v":1.58},{"a":108,"v":1.2},{"a":109,"v":1.48},{"a":110,"v":1.68},{"a":111,"v":1.32},{"a":112,"v":1.54},{"a":112,"v":1.4},{"a":113,"v":1.26},{"a":114,"v":1.6},{"a":114,"v":1.45},{"a":115,"v":1.35},{"a":116,"v":1.72},{"a":117,"v":1.845},{"a":117,"v":1.42},{"a":118,"v":1.95},{"a":119,"v":1.5},{"a":119,"v":1.3},{"a":120,"v":1.62},{"a":121,"v":1.38},{"a":121,"v":1.55},{"a":122,"v":1.44},{"a":122,"v":1.28},{"a":123,"v":1.58},{"a":124,"v":1.03},{"a":125,"v":1.63},{"a":125,"v":1.4},{"a":126,"v":1.5},
      {"a":57,"v":1.15},{"a":58,"v":1.05},{"a":60,"v":1.2},{"a":61,"v":1.1},{"a":62,"v":1.18},{"a":64,"v":1.08},{"a":65,"v":1.22},{"a":66,"v":1.14},{"a":68,"v":1.25},{"a":69,"v":1.12},{"a":70,"v":1.2},{"a":72,"v":1.27},{"a":73,"v":1.16},{"a":75,"v":1.24},{"a":76,"v":1.3},{"a":78,"v":1.18},{"a":79,"v":1.28},{"a":81,"v":1.22},{"a":83,"v":1.32},{"a":85,"v":1.25},{"a":86,"v":1.34},{"a":87,"v":1.28},{"a":89,"v":1.36},{"a":90,"v":1.24},{"a":91,"v":1.32},{"a":93,"v":1.4},{"a":95,"v":1.3},{"a":97,"v":1.38},{"a":99,"v":1.33},{"a":101,"v":1.42},{"a":102,"v":1.36},{"a":104,"v":1.45},{"a":106,"v":1.38},{"a":108,"v":1.44},{"a":110,"v":1.4},{"a":112,"v":1.48},{"a":115,"v":1.42},{"a":117,"v":1.5},{"a":120,"v":1.45},{"a":123,"v":1.52}],
    "verb_dld": [{"a":55.5,"v":0.2},{"a":58,"v":1.1},{"a":59,"v":0.85},{"a":60,"v":0.97},{"a":60.5,"v":0.62},{"a":62,"v":1.05},{"a":62,"v":0.64},{"a":63,"v":0.92},{"a":64,"v":0.5},{"a":66,"v":1.0},{"a":68,"v":1.12},{"a":69.5,"v":0.16},{"a":70,"v":0.8},{"a":72,"v":0.98},{"a":74,"v":1.25},{"a":76,"v":0.96},{"a":77,"v":0.88},{"a":80,"v":0.88},{"a":83,"v":1.08},{"a":85,"v":1.15},{"a":86,"v":0.88},{"a":89,"v":1.3},{"a":91,"v":1.02},{"a":93,"v":0.95},{"a":95,"v":1.2},{"a":97,"v":1.05},{"a":97.5,"v":0.87},{"a":100,"v":1.12},{"a":102,"v":1.04},{"a":105,"v":1.22},{"a":105.5,"v":0.9},{"a":109,"v":1.15},{"a":111,"v":1.28},{"a":111.5,"v":1.03},{"a":114,"v":1.2},{"a":116,"v":1.35},{"a":118,"v":1.25},{"a":120,"v":1.18},{"a":122,"v":1.3},{"a":124,"v":1.22}],
    "verb_fit": [{"g":"TD","a":60,"v":1.136},{"g":"TD","a":120,"v":1.477},{"g":"DLD","a":60,"v":0.871},{"g":"DLD","a":117.5,"v":1.269}]
  },
  "concat": [
    {
      "title": "MLU_M", "width": 210, "height": 284,
      "encoding": {
        "x": {"field": "a", "type": "quantitative", "title": null, "scale": {"domain": [50.2, 128.5], "nice": false, "zero": false}, "axis": null},
        "y": {"field": "v", "type": "quantitative", "title": null, "scale": {"domain": [1.52, 14.48], "nice": false, "zero": false}, "axis": {"values": [2, 4, 6, 8, 10, 12, 14]}}
      },
      "layer": [
        {"data": {"name": "mlum_td"}, "mark": {"type": "point", "shape": "circle", "filled": true, "size": 11, "color": "#222", "opacity": 1}},
        {"data": {"name": "mlum_dld"}, "mark": {"type": "point", "shape": "M-1,0L1,0M0,-1L0,1", "filled": false, "size": 45, "stroke": "#333", "strokeWidth": 1.1, "opacity": 1}},
        {"data": {"name": "mlum_fit"}, "mark": {"type": "line", "strokeWidth": 2.4, "color": "#111"},
          "encoding": {"strokeDash": {"field": "g", "type": "nominal", "scale": {"domain": ["TD", "DLD"], "range": [[1, 0], [8, 4]]}, "legend": null}}}
      ]
    },
    {
      "title": "MLU_W", "width": 210, "height": 284,
      "encoding": {
        "x": {"field": "a", "type": "quantitative", "title": null, "scale": {"domain": [50.2, 128.5], "nice": false, "zero": false}, "axis": null},
        "y": {"field": "v", "type": "quantitative", "title": null, "scale": {"domain": [1.52, 14.48], "nice": false, "zero": false}, "axis": {"values": [2, 4, 6, 8, 10, 12, 14]}}
      },
      "layer": [
        {"data": {"name": "mluw_td"}, "mark": {"type": "point", "shape": "circle", "filled": true, "size": 11, "color": "#222", "opacity": 1}},
        {"data": {"name": "mluw_dld"}, "mark": {"type": "point", "shape": "M-1,0L1,0M0,-1L0,1", "filled": false, "size": 45, "stroke": "#333", "strokeWidth": 1.1, "opacity": 1}},
        {"data": {"name": "mluw_fit"}, "mark": {"type": "line", "strokeWidth": 2.4, "color": "#111"},
          "encoding": {"strokeDash": {"field": "g", "type": "nominal", "scale": {"domain": ["TD", "DLD"], "range": [[1, 0], [8, 4]]}, "legend": null}}}
      ]
    },
    {
      "title": "TTR", "width": 210, "height": 284,
      "encoding": {
        "x": {"field": "a", "type": "quantitative", "title": null, "scale": {"domain": [50.2, 128.5], "nice": false, "zero": false}, "axis": null},
        "y": {"field": "v", "type": "quantitative", "title": null, "scale": {"domain": [-0.04, 1.04], "nice": false, "zero": false}, "axis": {"values": [0, 0.2, 0.4, 0.6, 0.8, 1], "format": ".1f"}}
      },
      "layer": [
        {"data": {"name": "ttr_td"}, "mark": {"type": "point", "shape": "circle", "filled": true, "size": 11, "color": "#222", "opacity": 1}},
        {"data": {"name": "ttr_dld"}, "mark": {"type": "point", "shape": "M-1,0L1,0M0,-1L0,1", "filled": false, "size": 45, "stroke": "#333", "strokeWidth": 1.1, "opacity": 1}},
        {"data": {"name": "ttr_fit"}, "mark": {"type": "line", "strokeWidth": 2.4, "color": "#111"},
          "encoding": {"strokeDash": {"field": "g", "type": "nominal", "scale": {"domain": ["TD", "DLD"], "range": [[1, 0], [8, 4]]}, "legend": null}}}
      ]
    },
    {
      "title": "VocD", "width": 210, "height": 284,
      "encoding": {
        "x": {"field": "a", "type": "quantitative", "title": null, "scale": {"domain": [50.2, 128.5], "nice": false, "zero": false}, "axis": null},
        "y": {"field": "v", "type": "quantitative", "title": null, "scale": {"domain": [-3.2, 83.2], "nice": false, "zero": false}, "axis": {"values": [0, 20, 40, 60, 80]}}
      },
      "layer": [
        {"data": {"name": "vocd_td"}, "mark": {"type": "point", "shape": "circle", "filled": true, "size": 11, "color": "#222", "opacity": 1}},
        {"data": {"name": "vocd_dld"}, "mark": {"type": "point", "shape": "M-1,0L1,0M0,-1L0,1", "filled": false, "size": 45, "stroke": "#333", "strokeWidth": 1.1, "opacity": 1}},
        {"data": {"name": "vocd_fit"}, "mark": {"type": "line", "strokeWidth": 2.4, "color": "#111"},
          "encoding": {"strokeDash": {"field": "g", "type": "nominal", "scale": {"domain": ["TD", "DLD"], "range": [[1, 0], [8, 4]]}, "legend": null}}}
      ]
    },
    {
      "title": "NDW_100", "width": 210, "height": 284,
      "encoding": {
        "x": {"field": "a", "type": "quantitative", "title": null, "scale": {"domain": [50.2, 128.5], "nice": false, "zero": false}, "axis": null},
        "y": {"field": "v", "type": "quantitative", "title": null, "scale": {"domain": [-3.2, 83.2], "nice": false, "zero": false}, "axis": {"values": [0, 20, 40, 60, 80]}}
      },
      "layer": [
        {"data": {"name": "ndw_td"}, "mark": {"type": "point", "shape": "circle", "filled": true, "size": 11, "color": "#222", "opacity": 1}},
        {"data": {"name": "ndw_dld"}, "mark": {"type": "point", "shape": "M-1,0L1,0M0,-1L0,1", "filled": false, "size": 45, "stroke": "#333", "strokeWidth": 1.1, "opacity": 1}},
        {"data": {"name": "ndw_fit"}, "mark": {"type": "line", "strokeWidth": 2.4, "color": "#111"},
          "encoding": {"strokeDash": {"field": "g", "type": "nominal", "scale": {"domain": ["TD", "DLD"], "range": [[1, 0], [8, 4]]}, "legend": null}}}
      ]
    },
    {
      "title": "MATTR25", "width": 210, "height": 284,
      "encoding": {
        "x": {"field": "a", "type": "quantitative", "title": null, "scale": {"domain": [50.2, 128.5], "nice": false, "zero": false}, "axis": null},
        "y": {"field": "v", "type": "quantitative", "title": null, "scale": {"domain": [0.376, 1.024], "nice": false, "zero": false}, "axis": {"values": [0.4, 0.5, 0.6, 0.7, 0.8, 0.9, 1], "format": ".1f"}}
      },
      "layer": [
        {"data": {"name": "m25_td"}, "mark": {"type": "point", "shape": "circle", "filled": true, "size": 11, "color": "#222", "opacity": 1}},
        {"data": {"name": "m25_dld"}, "mark": {"type": "point", "shape": "M-1,0L1,0M0,-1L0,1", "filled": false, "size": 45, "stroke": "#333", "strokeWidth": 1.1, "opacity": 1}},
        {"data": {"name": "m25_fit"}, "mark": {"type": "line", "strokeWidth": 2.4, "color": "#111"},
          "encoding": {"strokeDash": {"field": "g", "type": "nominal", "scale": {"domain": ["TD", "DLD"], "range": [[1, 0], [8, 4]]}, "legend": null}}}
      ]
    },
    {
      "title": "MATTR10", "width": 210, "height": 284,
      "encoding": {
        "x": {"field": "a", "type": "quantitative", "title": null, "scale": {"domain": [50.2, 128.5], "nice": false, "zero": false}, "axis": {"values": [60, 80, 100, 120]}},
        "y": {"field": "v", "type": "quantitative", "title": null, "scale": {"domain": [0.376, 1.024], "nice": false, "zero": false}, "axis": {"values": [0.4, 0.5, 0.6, 0.7, 0.8, 0.9, 1], "format": ".1f"}}
      },
      "layer": [
        {"data": {"name": "m10_td"}, "mark": {"type": "point", "shape": "circle", "filled": true, "size": 11, "color": "#222", "opacity": 1}},
        {"data": {"name": "m10_dld"}, "mark": {"type": "point", "shape": "M-1,0L1,0M0,-1L0,1", "filled": false, "size": 45, "stroke": "#333", "strokeWidth": 1.1, "opacity": 1}},
        {"data": {"name": "m10_fit"}, "mark": {"type": "line", "strokeWidth": 2.4, "color": "#111"},
          "encoding": {"strokeDash": {"field": "g", "type": "nominal", "scale": {"domain": ["TD", "DLD"], "range": [[1, 0], [8, 4]]}, "legend": null}}}
      ]
    },
    {
      "title": "Total word count (tokens)", "width": 210, "height": 284,
      "encoding": {
        "x": {"field": "a", "type": "quantitative", "title": null, "scale": {"domain": [50.2, 128.5], "nice": false, "zero": false}, "axis": {"values": [60, 80, 100, 120]}},
        "y": {"field": "v", "type": "quantitative", "title": null, "scale": {"domain": [-56, 1456], "nice": false, "zero": false}, "axis": {"values": [200, 600, 1000, 1400], "format": "d"}}
      },
      "layer": [
        {"data": {"name": "tok_td"}, "mark": {"type": "point", "shape": "circle", "filled": true, "size": 11, "color": "#222", "opacity": 1}},
        {"data": {"name": "tok_dld"}, "mark": {"type": "point", "shape": "M-1,0L1,0M0,-1L0,1", "filled": false, "size": 45, "stroke": "#333", "strokeWidth": 1.1, "opacity": 1}},
        {"data": {"name": "tok_fit"}, "mark": {"type": "line", "strokeWidth": 2.4, "color": "#111"},
          "encoding": {"strokeDash": {"field": "g", "type": "nominal", "scale": {"domain": ["TD", "DLD"], "range": [[1, 0], [8, 4]]}, "legend": null}}}
      ]
    },
    {
      "title": "Verbs/Utterances", "width": 210, "height": 284,
      "encoding": {
        "x": {"field": "a", "type": "quantitative", "title": null, "scale": {"domain": [50.2, 128.5], "nice": false, "zero": false}, "axis": {"values": [60, 80, 100, 120]}},
        "y": {"field": "v", "type": "quantitative", "title": null, "scale": {"domain": [-0.12, 3.12], "nice": false, "zero": false}, "axis": {"values": [0, 0.5, 1, 1.5, 2, 2.5, 3], "format": ".1f"}}
      },
      "layer": [
        {"data": {"name": "verb_td"}, "mark": {"type": "point", "shape": "circle", "filled": true, "size": 11, "color": "#222", "opacity": 1}},
        {"data": {"name": "verb_dld"}, "mark": {"type": "point", "shape": "M-1,0L1,0M0,-1L0,1", "filled": false, "size": 45, "stroke": "#333", "strokeWidth": 1.1, "opacity": 1}},
        {"data": {"name": "verb_fit"}, "mark": {"type": "line", "strokeWidth": 2.4, "color": "#111"},
          "encoding": {"strokeDash": {"field": "g", "type": "nominal", "scale": {"domain": ["TD", "DLD"], "range": [[1, 0], [8, 4]]},
            "legend": {"orient": "top-right", "title": null, "offset": 5, "padding": 0, "labelFontSize": 14, "labelFont": "Liberation Sans", "labelColor": "#111", "labelOffset": 10,
              "symbolSize": 900, "clipHeight": 15, "rowPadding": 1, "symbolStrokeWidth": 2.2, "symbolStrokeColor": "#111", "symbolFillColor": "#111",
              "encode": {"symbols": {"update": {
                "shape": {"signal": "datum.value === 'TD' ? 'M-1,0L1,0M0.15,0A0.15,0.15,0,1,1,-0.15,0A0.15,0.15,0,1,1,0.15,0Z' : 'M-1,0L-0.55,0M-0.3,0L0.3,0M0,-0.3L0,0.3M0.55,0L1,0'"},
                "strokeDash": {"value": [1, 0]},
                "fill": {"value": "#111"},
                "stroke": {"value": "#111"}}}}}}}}
      ]
    }
  ]
}
